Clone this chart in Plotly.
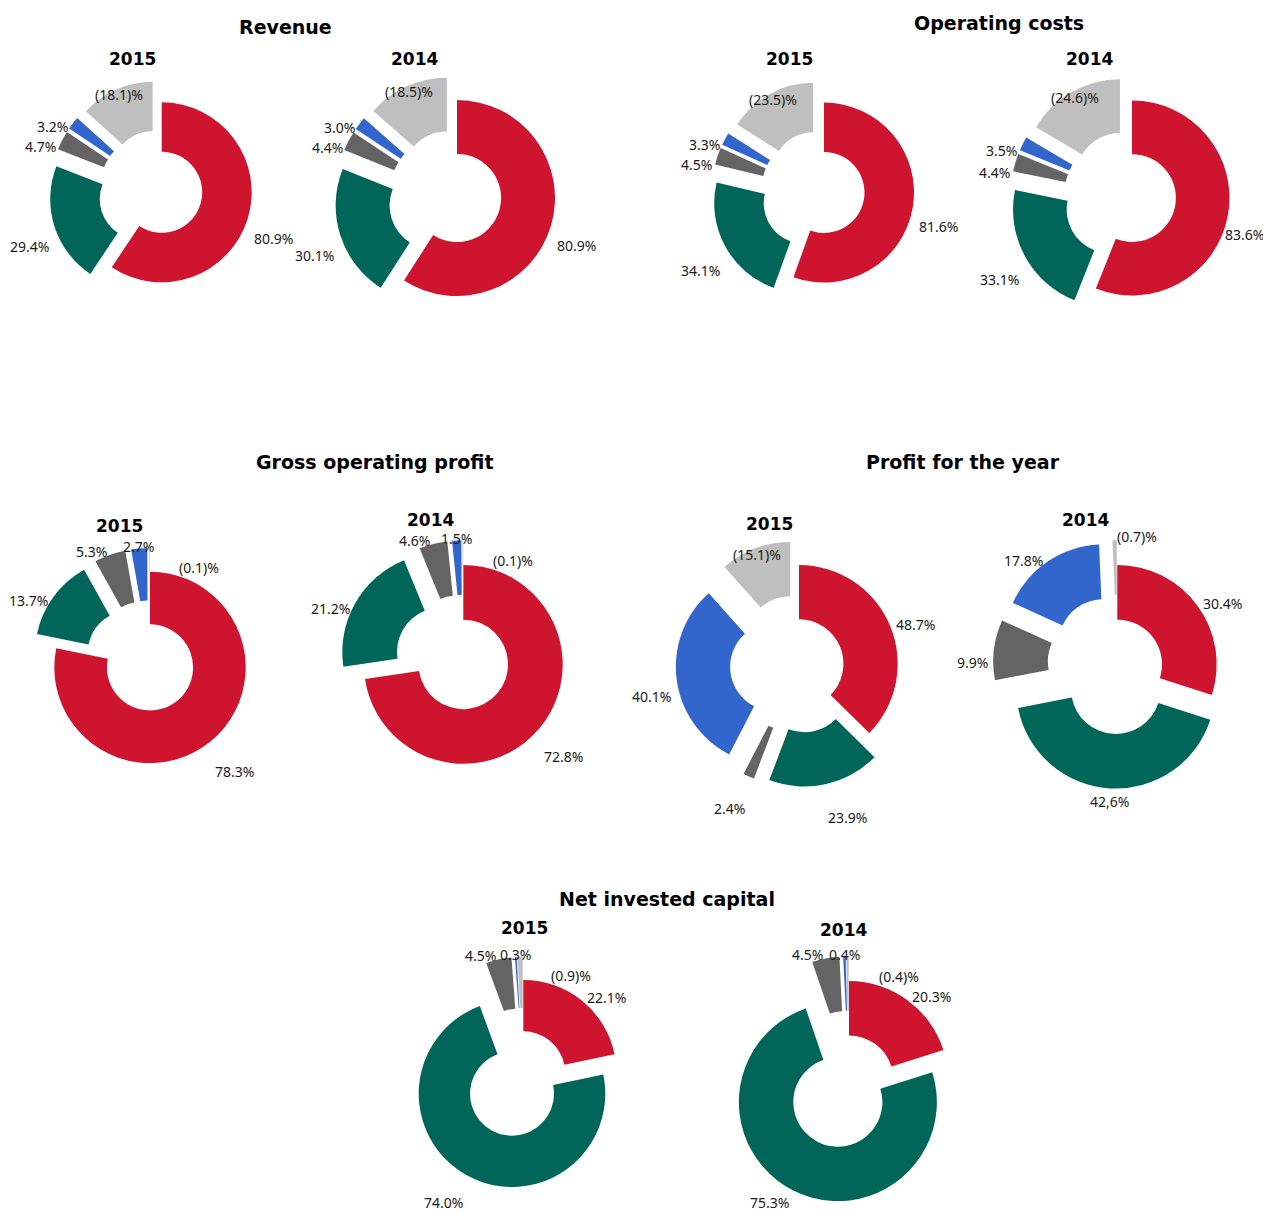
import math
import plotly.graph_objects as go

W, H = 1263, 1214

segments = ["Segment A", "Segment B", "Segment C", "Segment D", "Eliminations"]
colors = ["#CF1430", "#006659", "#646464", "#3366CC", "#BFBFBF"]

# signed shares (%) per chart, order: red, green, dark grey, blue, light grey
revenue_2015 = [80.9, 29.4, 4.7, 3.2, -18.1]
revenue_2014 = [80.9, 30.1, 4.4, 3.0, -18.5]
opcosts_2015 = [81.6, 34.1, 4.5, 3.3, -23.5]
opcosts_2014 = [83.6, 33.1, 4.4, 3.5, -24.6]
gop_2015 = [78.3, 13.7, 5.3, 2.7, -0.1]
gop_2014 = [72.8, 21.2, 4.6, 1.5, -0.1]
pfy_2015 = [48.7, 23.9, 2.4, 40.1, -15.1]
pfy_2014 = [30.4, 42.6, 9.9, 17.8, -0.7]
nic_2015 = [22.1, 74.0, 4.5, 0.3, -0.9]
nic_2014 = [20.3, 75.3, 4.5, 0.4, -0.4]

group_titles = ["Revenue", "Operating costs", "Gross operating profit",
                "Profit for the year", "Net invested capital"]


def fmt(v):
    return f"({abs(v):.1f})%" if v < 0 else f"{v:.1f}%"


def labels_for(vals, decimal_comma_idx=()):
    out = []
    for i, v in enumerate(vals):
        s = fmt(v)
        if i in decimal_comma_idx:
            s = s.replace(".", ",")
        out.append(s)
    return out


PULL = [0, 0.25, 0.25, 0.25, 0.25]
HOLE = 0.45
LABEL_FONT = dict(family="Noto Sans", size=14, color="#1a1a1a")
CHAR_W = 7.6   # approx px per label character
TXT_H = 18

# (values, centre x px, centre y px, outer radius px, year, year-title pos, comma idx)
charts = [
    (revenue_2015, 161.7, 192.3, 90.0, "2015", (132, 59), ()),
    (revenue_2014, 457.0, 198.0, 98.0, "2014", (414, 59), ()),
    (opcosts_2015, 824.0, 192.5, 90.0, "2015", (789, 59), ()),
    (opcosts_2014, 1132.0, 198.0, 97.5, "2014", (1089, 59), ()),
    (gop_2015, 150.0, 667.4, 95.7, "2015", (119.5, 526), ()),
    (gop_2014, 463.3, 664.4, 99.4, "2014", (430.5, 520), ()),
    (pfy_2015, 799.0, 663.7, 98.7, "2015", (769, 524), ()),
    (pfy_2014, 1117.3, 664.4, 99.4, "2014", (1085, 520), (1,)),
    (nic_2015, 523.3, 1073.3, 93.3, "2015", (524, 928), ()),
    (nic_2014, 849.0, 1080.0, 99.0, "2014", (843, 930), ()),
]

group_title_pos = [(285, 27), (999, 23), (375, 462), (963, 462), (667, 899)]

fig = go.Figure()
annotations = []


def label_box(px, py, xa, ya, w, h):
    x0 = px if xa == "left" else (px - w if xa == "right" else px - w / 2)
    y0 = py - h / 2 if ya == "middle" else (py - h if ya == "bottom" else py)
    return (x0, y0, x0 + w, y0 + h)


def overlap(a, b):
    return not (a[2] <= b[0] or b[2] <= a[0] or a[3] <= b[1] or b[3] <= a[1])


for vals, cx, cy, r, yr, tpos, comma in charts:
    half = r * (1 + max(PULL))
    x0, x1 = (cx - half) / W, (cx + half) / W
    y0, y1 = 1 - (cy + half) / H, 1 - (cy - half) / H
    absvals = [abs(v) for v in vals]
    texts = labels_for(vals, comma)
    fig.add_trace(go.Pie(
        labels=segments,
        values=absvals,
        text=texts,
        textinfo="none",
        sort=False,
        direction="clockwise",
        rotation=0,
        hole=HOLE,
        pull=PULL,
        marker=dict(colors=colors, line=dict(width=0)),
        domain=dict(x=[x0, x1], y=[y0, y1]),
        showlegend=False,
        hoverinfo="label+text",
    ))

    # data labels, positioned from each slice's mid angle
    total = sum(absvals)
    cum = 0.0
    prev_box = None
    for i, v in enumerate(absvals):
        span = v / total * 360.0
        mid = cum / total * 360.0 + span / 2
        cum += v
        th = math.radians(mid)
        s, c = math.sin(th), math.cos(th)
        rp = r * (1 + PULL[i])
        w = len(texts[i]) * CHAR_W
        dy = 0.0
        if span >= 30 and c > 0 and abs(s) < 0.55:
            # wide slice near the top: label sits on its outer edge
            xa, ya, d = "center", "middle", rp - 6
        elif s > -0.03 and c > 0:
            xa, ya, d = "left", "middle", rp + 4
        elif s >= 0.12:
            xa, ya, d = "left", "middle", rp + 4
            dy = 15 * (1 - c)
        elif s <= -0.12:
            xa, ya, d = "right", "middle", rp + 4
            dy = 15 * (1 - c)
        else:
            xa, ya, d = "center", "middle", rp + 2
            if c < 0:
                ya = "top"
        px, py = cx + s * d, cy - c * d + dy
        box = label_box(px, py, xa, ya, w, TXT_H)
        if prev_box is not None and overlap(box, prev_box):
            # crowded negligible slice: label set aside to the right of the top
            th2 = math.radians(15)
            d2 = r * 1.08
            px, py = cx + math.sin(th2) * d2, cy - math.cos(th2) * d2
            xa, ya = "left", "middle"
            box = label_box(px, py, xa, ya, w, TXT_H)
        # keep the label inside the page
        if box[2] > W - 2:
            px -= box[2] - (W - 2)
        if box[0] < 2:
            px += 2 - box[0]
        if box[3] > H - 3:
            py -= box[3] - (H - 3)
        box = label_box(px, py, xa, ya, w, TXT_H)
        prev_box = box
        annotations.append(dict(
            text=texts[i], x=px / W, y=1 - py / H,
            xref="paper", yref="paper", showarrow=False,
            xanchor=xa, yanchor=ya, font=LABEL_FONT,
        ))

    annotations.append(dict(
        text=f"<b>{yr}</b>", x=tpos[0] / W, y=1 - tpos[1] / H,
        xref="paper", yref="paper", showarrow=False,
        xanchor="center", yanchor="middle",
        font=dict(family="DejaVu Sans", size=17, color="#000000"),
    ))

for t, (tx, ty) in zip(group_titles, group_title_pos):
    annotations.append(dict(
        text=f"<b>{t}</b>", x=tx / W, y=1 - ty / H,
        xref="paper", yref="paper", showarrow=False,
        xanchor="center", yanchor="middle",
        font=dict(family="DejaVu Sans", size=19, color="#000000"),
    ))

fig.update_layout(
    width=W, height=H,
    margin=dict(l=0, r=0, t=0, b=0, autoexpand=False),
    paper_bgcolor="white",
    plot_bgcolor="white",
    annotations=annotations,
)

fig.write_html(
    "out.html",
    config={"displayModeBar": False},
    post_script="document.body.style.margin='0px';"
                "document.documentElement.style.overflow='hidden';",
)
